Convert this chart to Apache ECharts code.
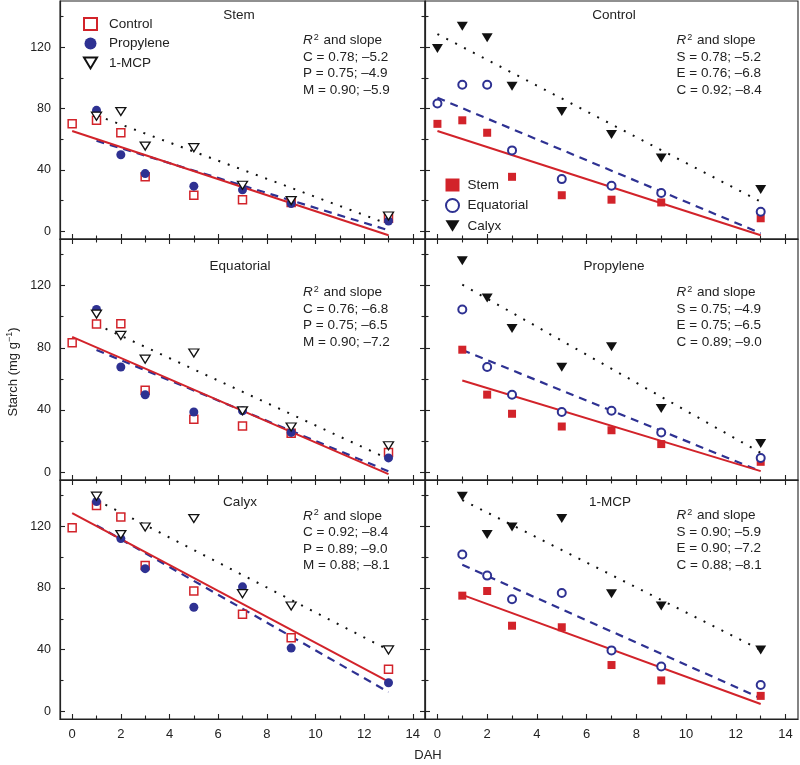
<!DOCTYPE html>
<html><head><meta charset="utf-8">
<script src="https://cdn.jsdelivr.net/npm/echarts@6/dist/echarts.min.js"></script>
<style>html,body{margin:0;padding:0;background:#fff}#c{width:800px;height:765px}</style>
</head><body><div id="c"></div>
<script>
// ---- data ----
const daysControl = [0, 1, 2, 3, 5, 7, 9, 13];
const daysTreated = [1, 2, 3, 5, 7, 9, 13];

const stemControl = [70, 72.3, 64.2, 35.5, 23.5, 20.6, 18.8, 8.5];
const stemPropylene = [78.8, 49.9, 37.6, 29.4, 27.0, 18.1, 6.7];
const stemMCP = [75, 78, 55.5, 54.5, 30, 20, 10];
const equatorialControl = [83.2, 95.4, 95.5, 52.7, 34, 29.7, 25, 12.7];
const equatorialPropylene = [104.7, 67.7, 49.8, 38.7, 39.5, 25.6, 9.2];
const equatorialMCP = [101.7, 88, 72.7, 76.7, 39.5, 29.1, 17];
const calyxControl = [119, 133.5, 126, 94.5, 78, 63, 47.7, 27.3];
const calyxPropylene = [136, 112, 92.5, 67.5, 80.7, 41, 18.5];
const calyxMCP = [139.5, 114.6, 119.5, 125, 76.3, 68.3, 39.8];

// regression lines: [value at first day, value at day 13]
const fitStemControl = [65.3, -2.6];
const fitStemPropylene = [59, 0.7];
const fitStemMCP = [75.5, 4.7];
const fitEquatorialControl = [87, -1.2];
const fitEquatorialPropylene = [78.6, 0.6];
const fitEquatorialMCP = [95, 8.5];
const fitCalyxControl = [128.5, 19.3];
const fitCalyxPropylene = [120.6, 12.5];
const fitCalyxMCP = [137, 39.8];
const fitEndDay = 13;

const statsStem = ['C = 0.78; \u20135.2', 'P = 0.75; \u20134.9', 'M = 0.90; \u20135.9'];
const statsEquatorial = ['C = 0.76; \u20136.8', 'P = 0.75; \u20136.5', 'M = 0.90; \u20137.2'];
const statsCalyx = ['C = 0.92; \u20138.4', 'P = 0.89; \u20139.0', 'M = 0.88; \u20138.1'];
const statsControl = ['S = 0.78; \u20135.2', 'E = 0.76; \u20136.8', 'C = 0.92; \u20138.4'];
const statsPropylene = ['S = 0.75; \u20134.9', 'E = 0.75; \u20136.5', 'C = 0.89; \u20139.0'];
const statsMCP = ['S = 0.90; \u20135.9', 'E = 0.90; \u20137.2', 'C = 0.88; \u20138.1'];

const xMajor = [0, 2, 4, 6, 8, 10, 12, 14];
const xMinor = [1, 3, 5, 7, 9, 11, 13];
const yMajor = [0, 40, 80, 120];
const yMinor = [20, 60, 100, 140];

// ---- style ----
const FONT = '"Liberation Sans", Arial, Helvetica, sans-serif';
const RED = '#d2232a', NAVY = '#2e3192', BLACK = '#111111', AX = '#222222';
const INV_TRI = 'path://M0,0 L12,0 L6,10 Z';
const cols = [{left: 60, width: 365}, {left: 425, width: 373}];
const rows = [{top: 1, height: 238}, {top: 239, height: 241}, {top: 480, height: 239}];

const treatStyles = [ // left panels: Control, Propylene, 1-MCP
  {name: 'Control', symbol: 'rect', size: 8, rot: 0, item: {color: '#fff', borderColor: RED, borderWidth: 1.5}, line: {color: RED, width: 2, type: 'solid'}, days: daysControl},
  {name: 'Propylene', symbol: 'circle', size: 9, rot: 0, item: {color: NAVY}, line: {color: NAVY, width: 2.2, type: [8, 6]}, days: daysTreated},
  {name: '1-MCP', symbol: 'triangle', size: [10, 8], rot: 180, item: {color: '#fff', borderColor: BLACK, borderWidth: 1.3}, line: {color: BLACK, width: 2, type: [2, 8]}, days: daysTreated}
];
const tissueStyles = [ // right panels: Stem, Equatorial, Calyx
  {name: 'Stem', symbol: 'rect', size: 8, rot: 0, item: {color: RED}, line: {color: RED, width: 2, type: 'solid'}},
  {name: 'Equatorial', symbol: 'circle', size: 8, rot: 0, item: {color: '#fff', borderColor: NAVY, borderWidth: 2}, line: {color: NAVY, width: 2.2, type: [8, 6]}},
  {name: 'Calyx', symbol: 'triangle', size: [11, 9], rot: 180, item: {color: BLACK}, line: {color: BLACK, width: 2, type: [2, 8]}}
];

const leftPanels = [
  {title: 'Stem', values: [stemControl, stemPropylene, stemMCP], fits: [fitStemControl, fitStemPropylene, fitStemMCP], stats: statsStem, tx: 239, ty: 15, sy: 32},
  {title: 'Equatorial', values: [equatorialControl, equatorialPropylene, equatorialMCP], fits: [fitEquatorialControl, fitEquatorialPropylene, fitEquatorialMCP], stats: statsEquatorial, tx: 240, ty: 266, sy: 284},
  {title: 'Calyx', values: [calyxControl, calyxPropylene, calyxMCP], fits: [fitCalyxControl, fitCalyxPropylene, fitCalyxMCP], stats: statsCalyx, tx: 240, ty: 502, sy: 507.5}
];
const rightPanels = [
  {title: 'Control', values: [stemControl, equatorialControl, calyxControl], fits: [fitStemControl, fitEquatorialControl, fitCalyxControl], stats: statsControl, days: daysControl, tx: 614, ty: 15, sy: 32},
  {title: 'Propylene', values: [stemPropylene, equatorialPropylene, calyxPropylene], fits: [fitStemPropylene, fitEquatorialPropylene, fitCalyxPropylene], stats: statsPropylene, days: daysTreated, tx: 614, ty: 266, sy: 284},
  {title: '1-MCP', values: [stemMCP, equatorialMCP, calyxMCP], fits: [fitStemMCP, fitEquatorialMCP, fitCalyxMCP], stats: statsMCP, days: daysTreated, tx: 610, ty: 502, sy: 507}
];

const grids = [], xAxes = [], yAxes = [], series = [], graphic = [];
const tickLine = {color: AX, width: 1.1};

function addX(gi, pos, vals, len, labels) {
  xAxes.push({
    gridIndex: gi, type: 'value', min: -0.5, max: 14.5, position: pos,
    axisLine: {show: pos === 'bottom' && len === 5, onZero: false, lineStyle: {color: AX, width: 1.2}},
    axisTick: {show: true, inside: true, length: len, customValues: vals, lineStyle: tickLine},
    axisLabel: {show: !!labels, customValues: vals, margin: 9, fontSize: 13, color: AX, fontFamily: FONT},
    splitLine: {show: false}
  });
  return xAxes.length - 1;
}
function addY(gi, pos, vals, len, labels) {
  yAxes.push({
    gridIndex: gi, type: 'value', min: -5, max: 150, position: pos,
    axisLine: {show: pos === 'left' && len === 5, onZero: false, lineStyle: {color: AX, width: 1.2}},
    axisTick: {show: true, inside: true, length: len, customValues: vals, lineStyle: tickLine},
    axisLabel: {show: !!labels, customValues: vals, margin: 9, fontSize: 12.5, color: AX, fontFamily: FONT},
    splitLine: {show: false}
  });
  return yAxes.length - 1;
}

function statsText(list, x, y) {
  const lines = ['{i|R}{s|2}{n| and slope}'].concat(list.map(t => '{n|' + t + '}'));
  graphic.push({type: 'text', x: x, y: y, z: 10, style: {
    text: lines.join('\n'), fill: AX, verticalAlign: 'top', align: 'left',
    rich: {
      n: {fontSize: 13.5, fontFamily: FONT, lineHeight: 16.6, fill: AX},
      i: {fontSize: 13.5, fontFamily: FONT, fontStyle: 'italic', lineHeight: 16.6, fill: AX},
      s: {fontSize: 9, fontFamily: FONT, verticalAlign: 'top', lineHeight: 16.6, padding: [1, 1, 0, 1], fill: AX}
    }
  }});
}
function titleText(t, x, y) {
  graphic.push({type: 'text', x: x, y: y, z: 10, style: {text: t, fontSize: 13.5, fontFamily: FONT, fill: AX, align: 'center', verticalAlign: 'middle'}});
}

for (let r = 0; r < 3; r++) {
  for (let c = 0; c < 2; c++) {
    const gi = grids.length;
    grids.push({left: cols[c].left, width: cols[c].width, top: rows[r].top, height: rows[r].height,
      show: true, borderColor: AX, borderWidth: 1.1, backgroundColor: 'transparent', containLabel: false});
    const xi = addX(gi, 'bottom', xMajor, 5, r === 2);
    addX(gi, 'bottom', xMinor, 3.5, false);
    if (r > 0) { addX(gi, 'top', xMajor, 5, false); addX(gi, 'top', xMinor, 3.5, false); }
    const yi = addY(gi, 'left', yMajor, 5, c === 0);
    addY(gi, 'left', yMinor, 3.5, false);
    if (c === 0) { addY(gi, 'right', yMajor, 5, false); addY(gi, 'right', yMinor, 3.5, false); }

    const panel = c === 0 ? leftPanels[r] : rightPanels[r];
    const styles = c === 0 ? treatStyles : tissueStyles;
    // fitted lines (dotted, dashed, solid order)
    [2, 1, 0].forEach(k => {
      const st = styles[k];
      const days = c === 0 ? st.days : panel.days;
      const f = panel.fits[k];
      series.push({type: 'line', name: st.name + ' fit', xAxisIndex: xi, yAxisIndex: yi, z: 2,
        symbol: 'none', silent: true, data: [[days[0], f[0]], [fitEndDay, f[1]]],
        lineStyle: {color: st.line.color, width: st.line.width, type: st.line.type}});
    });
    [0, 1, 2].forEach(k => {
      const st = styles[k];
      const days = c === 0 ? st.days : panel.days;
      series.push({type: 'scatter', name: st.name, xAxisIndex: xi, yAxisIndex: yi, z: 3,
        symbol: st.symbol, symbolSize: st.size, symbolRotate: st.rot,
        itemStyle: Object.assign({opacity: 1}, st.item),
        data: panel.values[k].map((v, i) => [days[i], v])});
    });
    titleText(panel.title, panel.tx, panel.ty);
    statsText(panel.stats, c === 0 ? 303 : 676.5, panel.sy);
  }
}

graphic.push({type: 'text', x: 13, y: 372, rotation: Math.PI / 2, z: 10, style: {
  text: '{n|Starch (mg g}{s|\u22121}{n|)}', align: 'center', verticalAlign: 'middle',
  rich: {n: {fontSize: 13, fontFamily: FONT, fill: AX, lineHeight: 16}, s: {fontSize: 9, fontFamily: FONT, fill: AX, verticalAlign: 'top', lineHeight: 16}}
}});
graphic.push({type: 'text', x: 428, y: 755, z: 10, style: {text: 'DAH', fontSize: 13, fontFamily: FONT, fill: AX, align: 'center', verticalAlign: 'middle'}});

const legendText = {fontSize: 13.5, fontFamily: FONT, color: AX};
const option = {
  animation: false,
  backgroundColor: '#fff',
  grid: grids, xAxis: xAxes, yAxis: yAxes, series: series, graphic: graphic,
  legend: [
    {data: [{name: 'Control', icon: 'rect'}, {name: 'Propylene', icon: 'circle'}, {name: '1-MCP', icon: INV_TRI}],
     orient: 'vertical', left: 83, top: 17, padding: 0,
     itemWidth: 13, itemHeight: 12, itemGap: 5.5, selectedMode: false,
     textStyle: Object.assign({padding: [0, 0, 0, 7]}, legendText)},
    {data: [{name: 'Stem', icon: 'rect'}, {name: 'Equatorial', icon: 'circle'}, {name: 'Calyx', icon: INV_TRI}],
     orient: 'vertical', left: 445, top: 178, padding: 0,
     itemWidth: 14, itemHeight: 13, itemGap: 6, selectedMode: false,
     textStyle: Object.assign({padding: [0, 0, 0, 3]}, legendText)}
  ]
};
const chart = echarts.init(document.getElementById('c'), null, {renderer: 'canvas'});
chart.setOption(option);
</script></body></html>
